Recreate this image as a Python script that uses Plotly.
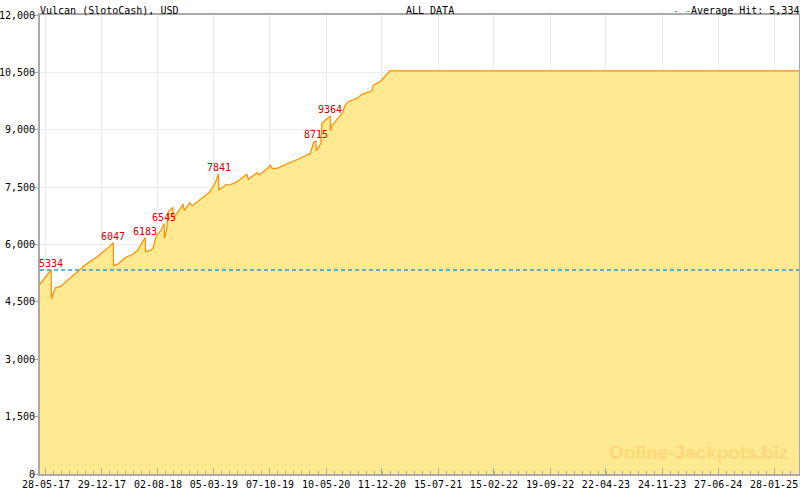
import plotly.graph_objects as go

# jackpot amount over time
dates = ['2017-05-05', '2017-06-17', '2017-06-18', '2017-07-03', '2017-07-22',
         '2017-10-03', '2017-10-29', '2017-12-06', '2018-01-01', '2018-01-20',
         '2018-02-11', '2018-02-12', '2018-02-28', '2018-04-01', '2018-04-27',
         '2018-05-16', '2018-06-14', '2018-06-15', '2018-07-06', '2018-07-15',
         '2018-07-25', '2018-08-14', '2018-08-26', '2018-08-27', '2018-09-04',
         '2018-09-11', '2018-09-28', '2018-09-30', '2018-10-19', '2018-11-07',
         '2018-11-11', '2018-12-03', '2018-12-12', '2019-01-11', '2019-02-18',
         '2019-03-10', '2019-03-23', '2019-03-24', '2019-04-05', '2019-04-24',
         '2019-05-07', '2019-06-02', '2019-07-10', '2019-07-16', '2019-08-18',
         '2019-08-28', '2019-10-02', '2019-10-08', '2019-10-15', '2019-11-03',
         '2019-12-11', '2020-01-28', '2020-01-31', '2020-03-10', '2020-03-16',
         '2020-03-23', '2020-04-01', '2020-04-02', '2020-04-11', '2020-04-20',
         '2020-04-24', '2020-05-13', '2020-05-26', '2020-05-27', '2020-06-01',
         '2020-06-21', '2020-07-10', '2020-07-23', '2020-08-04', '2020-09-06',
         '2020-09-25', '2020-11-02', '2020-11-09', '2020-12-04', '2020-12-23',
         '2021-01-11', '2025-05-04']
values = [4960, 5334, 4575, 4871, 4897,
          5333, 5482, 5656, 5796, 5900,
          6047, 5446, 5482, 5665, 5743,
          5856, 6183, 5812, 5856, 5917,
          6204, 6379, 6545, 6162, 6379,
          6858, 6972, 6684, 6858, 7059,
          6884, 7093, 7007, 7163, 7381,
          7600, 7841, 7425, 7486, 7573,
          7556, 7643, 7835, 7704, 7877,
          7817, 8018, 8078, 7992, 7992,
          8105, 8227, 8253, 8384, 8514,
          8662, 8715, 8453, 8540, 8645,
          9168, 9272, 9364, 8975, 9098,
          9272, 9411, 9647, 9733, 9821,
          9926, 10020, 10170, 10256, 10386,
          10540, 10540]

# hits (peak labels)
hit_dates = ['2017-06-17', '2018-02-11', '2018-06-14', '2018-08-26',
             '2019-03-23', '2020-04-01', '2020-05-26']
hit_values = [5334, 6047, 6183, 6545, 7841, 8715, 9364]
average_hit = 5334

tick_dates = ['2017-05-28', '2017-12-29', '2018-08-02', '2019-03-05', '2019-10-07',
              '2020-05-10', '2020-12-11', '2021-07-15', '2022-02-15', '2022-09-19',
              '2023-04-22', '2023-11-24', '2024-06-27', '2025-01-28']
tick_labels = ['28-05-17', '29-12-17', '02-08-18', '05-03-19', '07-10-19',
               '10-05-20', '11-12-20', '15-07-21', '15-02-22', '19-09-22',
               '22-04-23', '24-11-23', '27-06-24', '28-01-25']

mono = 'DejaVu Sans Mono'

fig = go.Figure()

fig.add_trace(go.Scatter(x=dates, y=values, mode='lines', fill='tozeroy',
                         fillcolor='#FFEA92', line=dict(color='#FF8C00', width=1.2),
                         hoverinfo='skip', showlegend=False))

fig.add_trace(go.Scatter(x=[dates[0], dates[-1]], y=[average_hit, average_hit],
                         mode='lines', line=dict(color='#2E9AD6', width=1.5, dash='4px,3px'),
                         hoverinfo='skip', showlegend=False))

for d, v in zip(hit_dates, hit_values):
    fig.add_annotation(x=d, y=v, text=str(v), showarrow=False, yanchor='bottom',
                       xanchor='center', yshift=-1,
                       font=dict(family=mono, size=10, color='#CC0000'))

fig.add_annotation(xref='paper', yref='paper', x=0, y=1, xanchor='left', yanchor='bottom',
                   text='Vulcan (SlotoCash), USD', showarrow=False, yshift=-3, xshift=-2,
                   font=dict(family=mono, size=10, color='#000000'))
fig.add_annotation(xref='paper', yref='paper', x=0.514, y=1, xanchor='center', yanchor='bottom',
                   text='ALL DATA', showarrow=False, yshift=-3,
                   font=dict(family=mono, size=10, color='#000000'))
fig.add_annotation(xref='paper', yref='paper', x=1, y=1, xanchor='right', yanchor='bottom',
                   text='<span style="color:#2E9AD6">- -</span>Average Hit: 5,334',
                   showarrow=False, yshift=-3, xshift=2,
                   font=dict(family=mono, size=10, color='#000000'))
fig.add_annotation(xref='paper', yref='paper', x=0.988, y=0.02, xanchor='right', yanchor='bottom',
                   text='<b>Online-Jackpots.biz</b>', showarrow=False,
                   font=dict(family='Liberation Sans', size=19, color='#FFD77A'))

fig.update_xaxes(type='date', range=['2017-05-05', '2025-05-04'], automargin=False,
                 tickvals=tick_dates, ticktext=tick_labels,
                 ticks='inside', ticklen=6, tickcolor='#AAAAAA',
                 minor=dict(ticks='inside', ticklen=3, tickcolor='#AAAAAA',
                            tick0='2017-05-28', dtick=30.79 * 86400000, showgrid=False),
                 showgrid=True, gridcolor='#EBEBEB', gridwidth=1,
                 showline=True, linecolor='#AAAAAA', linewidth=2, mirror=True,
                 tickfont=dict(family=mono, size=10, color='#000000'), zeroline=False)
fig.update_yaxes(range=[0, 12000], dtick=1500, tickformat=',', automargin=False,
                 ticks='outside', ticklen=4, tickcolor='#AAAAAA', ticklabelstandoff=-3,
                 showgrid=True, gridcolor='#EBEBEB', gridwidth=1,
                 showline=True, linecolor='#AAAAAA', linewidth=2, mirror=True,
                 tickfont=dict(family=mono, size=10, color='#000000'), zeroline=False)

fig.update_layout(width=800, height=490, margin=dict(l=40, r=1, t=15, b=16),
                  plot_bgcolor='#FFFFFF', paper_bgcolor='#FFFFFF')

# page has a default body margin, drop it so the chart sits at 0,0
fig.write_html("out.html", config={'displayModeBar': False},
               post_script="document.body.style.margin='0px';")
